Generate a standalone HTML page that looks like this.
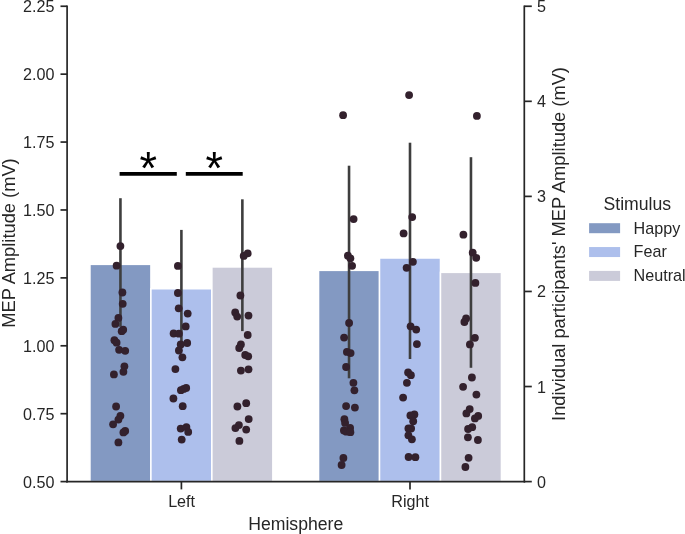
<!DOCTYPE html>
<html><head><meta charset="utf-8"><title>MEP Amplitude</title>
<style>
html,body{margin:0;padding:0;background:#fff}
body{width:685px;height:534px;overflow:hidden}
svg{display:block}
text{font-family:"Liberation Sans",Arial,sans-serif;fill:#262626}
.t{font-size:16.15px}
.l{font-size:17.65px}
</style></head><body>
<svg width="685" height="534" viewBox="0 0 685 534">
<rect width="685" height="534" fill="#fff"/>
<g stroke="#fff" stroke-width="1.5">
<rect x="89.96" y="264.35" width="60.96" height="217.25" fill="#8399c2"/>
<rect x="150.92" y="288.75" width="60.96" height="192.85" fill="#adbfec"/>
<rect x="211.88" y="266.95" width="60.96" height="214.65" fill="#cbcbd9"/>
<rect x="318.56" y="270.35" width="60.96" height="211.25" fill="#8399c2"/>
<rect x="379.52" y="258.00" width="60.96" height="223.60" fill="#adbfec"/>
<rect x="440.48" y="272.35" width="60.96" height="209.25" fill="#cbcbd9"/>
</g>
<g stroke="#3e3e3e" stroke-width="2.6" fill="none">
<line x1="120.44" y1="198.20" x2="120.44" y2="326.80"/>
<line x1="181.40" y1="229.90" x2="181.40" y2="341.00"/>
<line x1="242.36" y1="199.30" x2="242.36" y2="331.10"/>
<line x1="349.04" y1="165.70" x2="349.04" y2="378.30"/>
<line x1="410.00" y1="142.70" x2="410.00" y2="359.00"/>
<line x1="470.96" y1="157.20" x2="470.96" y2="367.80"/>
</g>
<g fill="#33212d">
<circle cx="120.4" cy="246.1" r="3.9"/>
<circle cx="116.6" cy="265.7" r="3.9"/>
<circle cx="122.4" cy="292.5" r="3.9"/>
<circle cx="122.7" cy="303.8" r="3.9"/>
<circle cx="118.4" cy="317.9" r="3.9"/>
<circle cx="115.4" cy="323.9" r="3.9"/>
<circle cx="121.7" cy="331.2" r="3.9"/>
<circle cx="123.2" cy="329.7" r="3.9"/>
<circle cx="114.4" cy="340.2" r="3.9"/>
<circle cx="116.6" cy="342.7" r="3.9"/>
<circle cx="119.1" cy="349.8" r="3.9"/>
<circle cx="125.2" cy="350.8" r="3.9"/>
<circle cx="177.9" cy="265.9" r="3.9"/>
<circle cx="177.9" cy="293.0" r="3.9"/>
<circle cx="178.7" cy="308.3" r="3.9"/>
<circle cx="187.7" cy="313.6" r="3.9"/>
<circle cx="185.7" cy="326.4" r="3.9"/>
<circle cx="173.6" cy="333.5" r="3.9"/>
<circle cx="178.9" cy="333.7" r="3.9"/>
<circle cx="187.2" cy="343.0" r="3.9"/>
<circle cx="180.7" cy="344.5" r="3.9"/>
<circle cx="178.9" cy="350.5" r="3.9"/>
<circle cx="182.4" cy="357.3" r="3.9"/>
<circle cx="247.7" cy="253.4" r="3.9"/>
<circle cx="243.7" cy="255.9" r="3.9"/>
<circle cx="240.4" cy="295.5" r="3.9"/>
<circle cx="235.2" cy="312.4" r="3.9"/>
<circle cx="237.2" cy="316.6" r="3.9"/>
<circle cx="248.5" cy="315.6" r="3.9"/>
<circle cx="247.7" cy="335.0" r="3.9"/>
<circle cx="240.9" cy="344.5" r="3.9"/>
<circle cx="239.2" cy="348.0" r="3.9"/>
<circle cx="245.2" cy="355.0" r="3.9"/>
<circle cx="248.2" cy="356.3" r="3.9"/>
<circle cx="124.4" cy="366.3" r="3.9"/>
<circle cx="123.4" cy="371.8" r="3.9"/>
<circle cx="113.9" cy="374.4" r="3.9"/>
<circle cx="116.1" cy="406.5" r="3.9"/>
<circle cx="120.4" cy="415.8" r="3.9"/>
<circle cx="118.4" cy="419.6" r="3.9"/>
<circle cx="113.1" cy="424.3" r="3.9"/>
<circle cx="125.2" cy="430.9" r="3.9"/>
<circle cx="123.4" cy="432.4" r="3.9"/>
<circle cx="118.4" cy="442.4" r="3.9"/>
<circle cx="175.4" cy="369.1" r="3.9"/>
<circle cx="186.2" cy="387.9" r="3.9"/>
<circle cx="183.7" cy="388.9" r="3.9"/>
<circle cx="180.9" cy="390.2" r="3.9"/>
<circle cx="173.4" cy="398.5" r="3.9"/>
<circle cx="182.7" cy="406.2" r="3.9"/>
<circle cx="180.7" cy="428.6" r="3.9"/>
<circle cx="186.4" cy="427.1" r="3.9"/>
<circle cx="188.2" cy="431.9" r="3.9"/>
<circle cx="181.7" cy="439.6" r="3.9"/>
<circle cx="248.5" cy="369.3" r="3.9"/>
<circle cx="240.9" cy="370.6" r="3.9"/>
<circle cx="246.2" cy="403.2" r="3.9"/>
<circle cx="237.4" cy="406.5" r="3.9"/>
<circle cx="248.7" cy="419.1" r="3.9"/>
<circle cx="238.9" cy="425.1" r="3.9"/>
<circle cx="235.4" cy="428.1" r="3.9"/>
<circle cx="246.2" cy="429.6" r="3.9"/>
<circle cx="239.4" cy="440.9" r="3.9"/>
<circle cx="343.1" cy="115.2" r="3.9"/>
<circle cx="409.1" cy="95.1" r="3.9"/>
<circle cx="476.9" cy="115.9" r="3.9"/>
<circle cx="353.6" cy="219.1" r="3.9"/>
<circle cx="347.9" cy="255.7" r="3.9"/>
<circle cx="350.4" cy="258.3" r="3.9"/>
<circle cx="352.1" cy="265.8" r="3.9"/>
<circle cx="349.1" cy="323.0" r="3.9"/>
<circle cx="412.2" cy="217.1" r="3.9"/>
<circle cx="403.6" cy="233.4" r="3.9"/>
<circle cx="412.9" cy="261.8" r="3.9"/>
<circle cx="406.6" cy="267.8" r="3.9"/>
<circle cx="410.6" cy="326.3" r="3.9"/>
<circle cx="416.2" cy="329.6" r="3.9"/>
<circle cx="463.4" cy="234.7" r="3.9"/>
<circle cx="472.7" cy="252.7" r="3.9"/>
<circle cx="476.2" cy="257.8" r="3.9"/>
<circle cx="475.4" cy="282.9" r="3.9"/>
<circle cx="466.1" cy="318.5" r="3.9"/>
<circle cx="464.4" cy="322.0" r="3.9"/>
<circle cx="344.1" cy="337.6" r="3.9"/>
<circle cx="346.9" cy="351.9" r="3.9"/>
<circle cx="350.6" cy="353.1" r="3.9"/>
<circle cx="346.1" cy="367.0" r="3.9"/>
<circle cx="353.4" cy="382.8" r="3.9"/>
<circle cx="354.4" cy="390.3" r="3.9"/>
<circle cx="346.1" cy="406.1" r="3.9"/>
<circle cx="354.9" cy="407.6" r="3.9"/>
<circle cx="344.4" cy="419.2" r="3.9"/>
<circle cx="345.1" cy="422.9" r="3.9"/>
<circle cx="350.1" cy="428.0" r="3.9"/>
<circle cx="343.9" cy="430.5" r="3.9"/>
<circle cx="346.4" cy="431.7" r="3.9"/>
<circle cx="350.4" cy="432.2" r="3.9"/>
<circle cx="416.9" cy="344.1" r="3.9"/>
<circle cx="408.1" cy="372.5" r="3.9"/>
<circle cx="410.9" cy="375.2" r="3.9"/>
<circle cx="406.9" cy="382.8" r="3.9"/>
<circle cx="403.1" cy="397.6" r="3.9"/>
<circle cx="414.4" cy="414.4" r="3.9"/>
<circle cx="410.4" cy="415.4" r="3.9"/>
<circle cx="413.2" cy="421.2" r="3.9"/>
<circle cx="408.4" cy="428.5" r="3.9"/>
<circle cx="411.1" cy="428.5" r="3.9"/>
<circle cx="408.4" cy="435.3" r="3.9"/>
<circle cx="411.9" cy="439.3" r="3.9"/>
<circle cx="474.9" cy="337.8" r="3.9"/>
<circle cx="469.9" cy="344.4" r="3.9"/>
<circle cx="471.9" cy="377.5" r="3.9"/>
<circle cx="463.1" cy="386.8" r="3.9"/>
<circle cx="476.4" cy="394.6" r="3.9"/>
<circle cx="469.7" cy="409.1" r="3.9"/>
<circle cx="466.4" cy="413.4" r="3.9"/>
<circle cx="478.2" cy="415.9" r="3.9"/>
<circle cx="474.9" cy="418.4" r="3.9"/>
<circle cx="472.2" cy="427.2" r="3.9"/>
<circle cx="468.1" cy="429.0" r="3.9"/>
<circle cx="467.9" cy="437.3" r="3.9"/>
<circle cx="477.9" cy="440.0" r="3.9"/>
<circle cx="343.4" cy="458.0" r="3.9"/>
<circle cx="341.6" cy="465.0" r="3.9"/>
<circle cx="408.6" cy="457.0" r="3.9"/>
<circle cx="415.4" cy="457.2" r="3.9"/>
<circle cx="468.6" cy="457.8" r="3.9"/>
<circle cx="465.4" cy="467.0" r="3.9"/>
</g>
<g stroke="#262626" stroke-width="1.7" fill="none" stroke-linecap="square">
<line x1="67.10" y1="6.25" x2="67.10" y2="481.60"/>
<line x1="524.30" y1="6.25" x2="524.30" y2="481.60"/>
<line x1="67.10" y1="481.60" x2="524.30" y2="481.60"/>
</g>
<g stroke="#262626" stroke-width="1.7" fill="none">
<line x1="60.50" y1="481.60" x2="67.10" y2="481.60"/>
<line x1="60.50" y1="413.69" x2="67.10" y2="413.69"/>
<line x1="60.50" y1="345.79" x2="67.10" y2="345.79"/>
<line x1="60.50" y1="277.88" x2="67.10" y2="277.88"/>
<line x1="60.50" y1="209.97" x2="67.10" y2="209.97"/>
<line x1="60.50" y1="142.06" x2="67.10" y2="142.06"/>
<line x1="60.50" y1="74.16" x2="67.10" y2="74.16"/>
<line x1="60.50" y1="6.25" x2="67.10" y2="6.25"/>
<line x1="524.30" y1="481.60" x2="531.80" y2="481.60"/>
<line x1="524.30" y1="386.53" x2="531.80" y2="386.53"/>
<line x1="524.30" y1="291.46" x2="531.80" y2="291.46"/>
<line x1="524.30" y1="196.39" x2="531.80" y2="196.39"/>
<line x1="524.30" y1="101.32" x2="531.80" y2="101.32"/>
<line x1="524.30" y1="6.25" x2="531.80" y2="6.25"/>
<line x1="181.40" y1="481.60" x2="181.40" y2="489.40"/>
<line x1="410.00" y1="481.60" x2="410.00" y2="489.40"/>
</g>
<text class="t" transform="translate(54.40,487.70) scale(1,1.037)" text-anchor="end">0.50</text>
<text class="t" transform="translate(54.40,419.79) scale(1,1.037)" text-anchor="end">0.75</text>
<text class="t" transform="translate(54.40,351.89) scale(1,1.037)" text-anchor="end">1.00</text>
<text class="t" transform="translate(54.40,283.98) scale(1,1.037)" text-anchor="end">1.25</text>
<text class="t" transform="translate(54.40,216.07) scale(1,1.037)" text-anchor="end">1.50</text>
<text class="t" transform="translate(54.40,148.16) scale(1,1.037)" text-anchor="end">1.75</text>
<text class="t" transform="translate(54.40,80.26) scale(1,1.037)" text-anchor="end">2.00</text>
<text class="t" transform="translate(54.40,12.35) scale(1,1.037)" text-anchor="end">2.25</text>
<text class="t" transform="translate(537.10,487.60) scale(1,1.037)" text-anchor="start">0</text>
<text class="t" transform="translate(537.10,392.53) scale(1,1.037)" text-anchor="start">1</text>
<text class="t" transform="translate(537.10,297.46) scale(1,1.037)" text-anchor="start">2</text>
<text class="t" transform="translate(537.10,202.39) scale(1,1.037)" text-anchor="start">3</text>
<text class="t" transform="translate(537.10,107.32) scale(1,1.037)" text-anchor="start">4</text>
<text class="t" transform="translate(537.10,12.25) scale(1,1.037)" text-anchor="start">5</text>
<text class="t" transform="translate(181.60,507.20) scale(1,1.037)" text-anchor="middle">Left</text>
<text class="t" transform="translate(410.10,507.20) scale(1,1.037)" text-anchor="middle">Right</text>
<text class="l" transform="translate(295.70,529.80) scale(1,1.037)" text-anchor="middle">Hemisphere</text>
<text class="l" transform="translate(15.00,243.00) rotate(-90) scale(1.037,1)" text-anchor="middle">MEP Amplitude (mV)</text>
<text class="l" transform="translate(565.00,244.00) rotate(-90) scale(1.037,1)" text-anchor="middle">Individual participants' MEP Amplitude (mV)</text>
<text class="l" transform="translate(637.30,209.80) scale(1,1.037)" text-anchor="middle">Stimulus</text>
<rect x="589.1" y="223.20" width="31.0" height="10" fill="#8399c2"/>
<text class="t" transform="translate(633.60,233.60) scale(1,1.037)" text-anchor="start">Happy</text>
<rect x="589.1" y="247.05" width="31.0" height="10" fill="#adbfec"/>
<text class="t" transform="translate(633.60,257.45) scale(1,1.037)" text-anchor="start">Fear</text>
<rect x="589.1" y="270.90" width="31.0" height="10" fill="#cbcbd9"/>
<text class="t" transform="translate(633.60,281.30) scale(1,1.037)" text-anchor="start">Neutral</text>
<g stroke="#000" stroke-width="3.8">
<line x1="119.6" y1="173.85" x2="176.8" y2="173.85"/>
<line x1="185.8" y1="173.85" x2="242.7" y2="173.85"/>
</g>
<text transform="translate(148.3,183.6) scale(1,1.045)" text-anchor="middle" style="font-size:45px;fill:#000">*</text>
<text transform="translate(214.2,183.6) scale(1,1.045)" text-anchor="middle" style="font-size:45px;fill:#000">*</text>
</svg>
</body></html>
